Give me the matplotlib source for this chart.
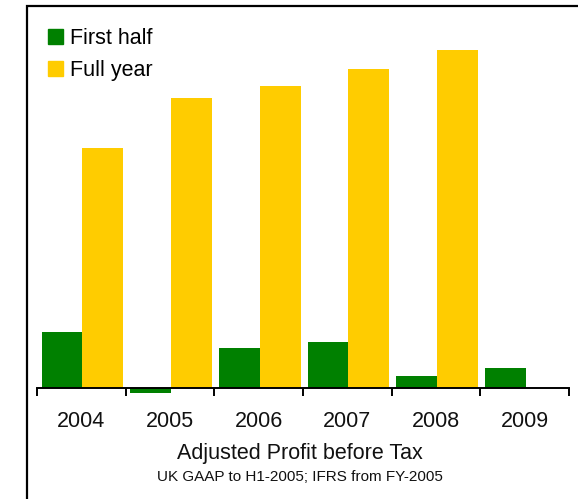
import numpy as np
import matplotlib
matplotlib.use('Agg')
import matplotlib.pyplot as plt
import matplotlib.patches as mpatches

plt.rcParams['font.family'] = ['Liberation Sans', 'DejaVu Sans']

# values (arbitrary units)
years = ['2004', '2005', '2006', '2007', '2008', '2009']
first_half = [56, -5, 40, 46, 12, 20]
full_year = [240, 290, 302, 319, 338, np.nan]

green = '#008000'
yellow = '#FFCC00'

W, H = 578, 499
fig = plt.figure(figsize=(W / 100, H / 100), dpi=100)

# axes placed in pixel terms: x 37..569, y-data 0 at pixel 388
ax_left, ax_right = 37, 569
ax_top, ax_bot = 20, 400
ax = fig.add_axes([ax_left / W, 1 - ax_bot / H, (ax_right - ax_left) / W, (ax_bot - ax_top) / H])
ax.set_ylim(388 - ax_bot, 388 - ax_top)
ax.set_xlim(-0.5, 5.5)

x = np.arange(len(years))
bw = 0.46
ax.bar(x - bw / 2 + 0.012, first_half, width=bw, color=green, label='First half')
ax.bar(x + bw / 2 + 0.012, full_year, width=bw, color=yellow, label='Full year')

for s in ['top', 'right', 'left']:
    ax.spines[s].set_visible(False)
ax.spines['bottom'].set_position(('data', 0))
ax.spines['bottom'].set_linewidth(1.4)
ax.set_yticks([])

ax.set_xticks(np.arange(-0.5, 6, 1))
ax.set_xticklabels([])
ax.tick_params(axis='x', which='major', direction='out', length=6, width=1.4)
ax.set_xticks(x, minor=True)
ax.set_xticklabels(years, minor=True, fontsize=15.5, color='#111111')
ax.tick_params(axis='x', which='minor', length=0, pad=16.5)

fig.text(300 / W, 1 - 459 / H, 'Adjusted Profit before Tax', ha='center', va='baseline',
         fontsize=15.5, color='#111111')
fig.text(300 / W, 1 - 481 / H, 'UK GAAP to H1-2005; IFRS from FY-2005', ha='center', va='baseline',
         fontsize=11, color='#111111')

handles = [mpatches.Patch(color=green), mpatches.Patch(color=yellow)]
ax.legend(handles, ['First half', 'Full year'], loc='upper left',
          bbox_to_anchor=(48 / W, 1 - 28 / H), bbox_transform=fig.transFigure,
          frameon=False, fontsize=15.5, handlelength=0.68, handleheight=0.68,
          handletextpad=0.35, labelspacing=0.5, borderpad=0, borderaxespad=0)

# frame around the chart (left and top edges visible)
frame = mpatches.Rectangle((26.5 / W, -0.2), 1.5, 1.2 - 6 / H, transform=fig.transFigure,
                           fill=False, edgecolor='black', linewidth=1.6, clip_on=False)
fig.patches.append(frame)

fig.savefig('out.png', dpi=100)
